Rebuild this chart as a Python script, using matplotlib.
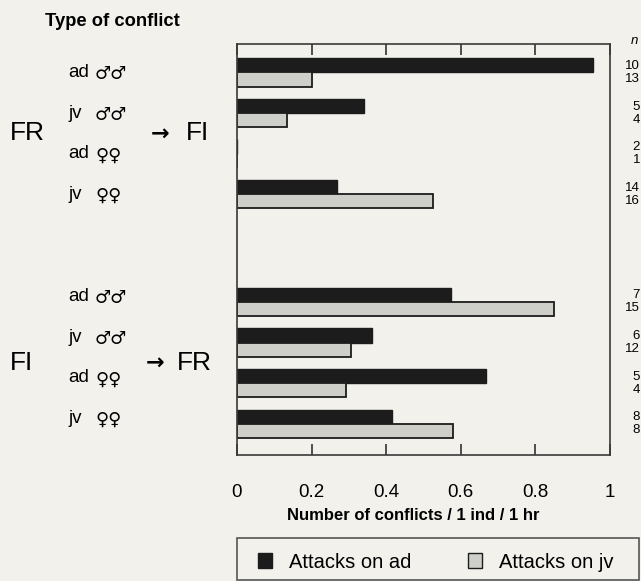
import matplotlib
matplotlib.use('Agg')
import matplotlib.pyplot as plt
from matplotlib.patches import Patch, Rectangle
from matplotlib.transforms import blended_transform_factory

# values
row_ages = ['ad', 'jv', 'ad', 'jv', 'ad', 'jv', 'ad', 'jv']
row_sexes = ['♂♂', '♂♂', '♀♀', '♀♀', '♂♂', '♂♂', '♀♀', '♀♀']
attacks_ad = [0.955, 0.34, 0.0, 0.268, 0.574, 0.362, 0.668, 0.415]
attacks_jv = [0.20, 0.134, 0.0, 0.525, 0.85, 0.305, 0.292, 0.579]
n_ad = ['10', '5', '2', '14', '7', '6', '5', '8']
n_jv = ['13', '4', '1', '16', '15', '12', '4', '8']
xticks = [0, 0.2, 0.4, 0.6, 0.8, 1]
xtick_labels = ['0', '0.2', '0.4', '0.6', '0.8', '1']

BG = '#f2f1ec'
DARK = '#1c1c1c'
GREY = '#cfcfca'
FONT = ['Liberation Sans', 'DejaVu Sans']
plt.rcParams['font.family'] = FONT

W, H = 641, 581
fig = plt.figure(figsize=(W / 100, H / 100), dpi=100, facecolor=BG)


def fx(px):
    return px / W


def fy(py):
    return 1 - py / H


ax = fig.add_axes([fx(237), fy(455), fx(610) - fx(237), fy(44) - fy(455)])
ax.set_facecolor(BG)

# two blocks of four rows, with a gap between them
ypos = [0, 1, 2, 3, 5.65, 6.65, 7.65, 8.65]
h = 0.35
y_ad = [y - h / 2 for y in ypos]
y_jv = [y + h / 2 for y in ypos]
ax.barh(y_ad, attacks_ad, height=h, color=DARK, edgecolor=DARK, linewidth=1)
ax.barh(y_jv, attacks_jv, height=h, color=GREY, edgecolor=DARK, linewidth=1.3)

ax.set_xlim(0, 1)
ax.set_ylim(9.42, -0.7)
ax.set_yticks([])
ax.set_xticks(xticks)
ax.set_xticklabels(xtick_labels, fontsize=13.5)
ax.tick_params(axis='x', direction='in', length=8, width=1.2, color='#333333',
               top=True, pad=21)
for s in ax.spines.values():
    s.set_color('#3a3a3a')
    s.set_linewidth(1.2)
ax.set_xlabel('Number of conflicts / 1 ind / 1 hr', fontsize=12,
              fontweight='bold')
ax.xaxis.set_label_coords(0.472, -0.128)

# left hand labels
tr = blended_transform_factory(fig.transFigure, ax.transData)
fig.text(fx(45), fy(22), 'Type of conflict', fontsize=13.2, fontweight='bold',
         va='center', ha='left')
for i, y in enumerate(ypos):
    yl = y if i < 4 else y - 0.13
    ax.text(fx(68), yl, row_ages[i], transform=tr, fontsize=13.5,
            va='center', ha='left')
    ax.text(fx(95), yl + 0.04, row_sexes[i], transform=tr, fontsize=13,
            family='DejaVu Sans', fontweight='bold', va='center', ha='left')
    ax.text(fx(640), y - 0.16, n_ad[i], transform=tr, fontsize=9.5,
            va='center', ha='right')
    ax.text(fx(640), y + 0.16, n_jv[i], transform=tr, fontsize=9.5,
            va='center', ha='right')
fig.text(fx(631), fy(41), 'n', fontsize=9.5, style='italic', va='center')

ax.text(fx(10), 1.5, 'FR', transform=tr, fontsize=19, va='center', ha='left')
ax.text(fx(151), 1.5, '→', transform=tr, fontsize=16, family='DejaVu Sans',
        fontweight='bold', va='center', ha='left')
ax.text(fx(186), 1.5, 'FI', transform=tr, fontsize=19, va='center', ha='left')
ax.text(fx(10), 7.15, 'FI', transform=tr, fontsize=19, va='center', ha='left')
ax.text(fx(146), 7.15, '→', transform=tr, fontsize=16, family='DejaVu Sans',
        fontweight='bold', va='center', ha='left')
ax.text(fx(177), 7.15, 'FR', transform=tr, fontsize=19, va='center', ha='left')

# legend box
fig.add_artist(Rectangle((fx(237), fy(580)), fx(639) - fx(237), fy(538) - fy(580),
                         transform=fig.transFigure, fill=False,
                         edgecolor='#555555', linewidth=1.2))
handles = [Patch(facecolor=DARK, edgecolor=DARK),
           Patch(facecolor=GREY, edgecolor=DARK)]
fig.legend(handles, ['Attacks on ad', 'Attacks on jv'], loc='center left',
           bbox_to_anchor=(fx(258), fy(562)), ncol=2, frameon=False,
           fontsize=14.5, handlelength=0.7, handleheight=0.7,
           handletextpad=0.85, columnspacing=2.8, borderaxespad=0, borderpad=0)

fig.savefig('out.png', dpi=100, facecolor=BG)
